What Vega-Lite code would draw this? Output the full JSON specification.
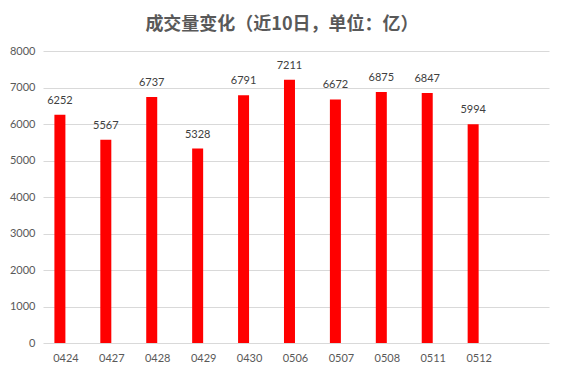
{
  "$schema": "https://vega.github.io/schema/vega-lite/v6.json",
  "width": 506,
  "height": 292,
  "autosize": {"type": "none"},
  "padding": {"left": 43, "top": 51, "right": 15, "bottom": 33},
  "background": "white",
  "title": {
    "text": "成交量变化（近10日，单位：亿）",
    "font": "Noto Sans CJK SC",
    "fontSize": 18,
    "fontWeight": "bold",
    "color": "#595959",
    "anchor": "middle",
    "dx": -14,
    "offset": 11
  },
  "config": {
    "view": {"stroke": null},
    "font": "Lato"
  },
  "data": {
    "values": [
      {"date": "0424", "volume": 6252},
      {"date": "0427", "volume": 5567},
      {"date": "0428", "volume": 6737},
      {"date": "0429", "volume": 5328},
      {"date": "0430", "volume": 6791},
      {"date": "0506", "volume": 7211},
      {"date": "0507", "volume": 6672},
      {"date": "0508", "volume": 6875},
      {"date": "0511", "volume": 6847},
      {"date": "0512", "volume": 5994}
    ]
  },
  "encoding": {
    "x": {
      "field": "date",
      "type": "ordinal",
      "sort": null,
      "scale": {"paddingInner": 0.52, "paddingOuter": 0.77, "align": 0.168},
      "axis": {
        "title": null,
        "labelAngle": 0,
        "labelColor": "#595959",
        "labelFontSize": 11,
        "labelPadding": 9,
        "ticks": false,
        "domain": false
      }
    },
    "y": {
      "field": "volume",
      "type": "quantitative",
      "scale": {"domain": [0, 8000], "nice": false},
      "axis": {
        "title": null,
        "values": [0, 1000, 2000, 3000, 4000, 5000, 6000, 7000, 8000],
        "format": "d",
        "labelColor": "#595959",
        "labelFontSize": 11,
        "labelPadding": 8,
        "ticks": false,
        "domain": false,
        "gridColor": "#d9d9d9",
        "gridWidth": 1
      }
    }
  },
  "layer": [
    {
      "mark": {"type": "bar", "size": 11, "xOffset": -6, "color": "#ff0000"}
    },
    {
      "mark": {"type": "text", "xOffset": -6, "dy": -9, "baseline": "bottom", "fontSize": 11, "color": "#404040"},
      "encoding": {"text": {"field": "volume", "type": "quantitative", "format": "d"}}
    }
  ]
}
